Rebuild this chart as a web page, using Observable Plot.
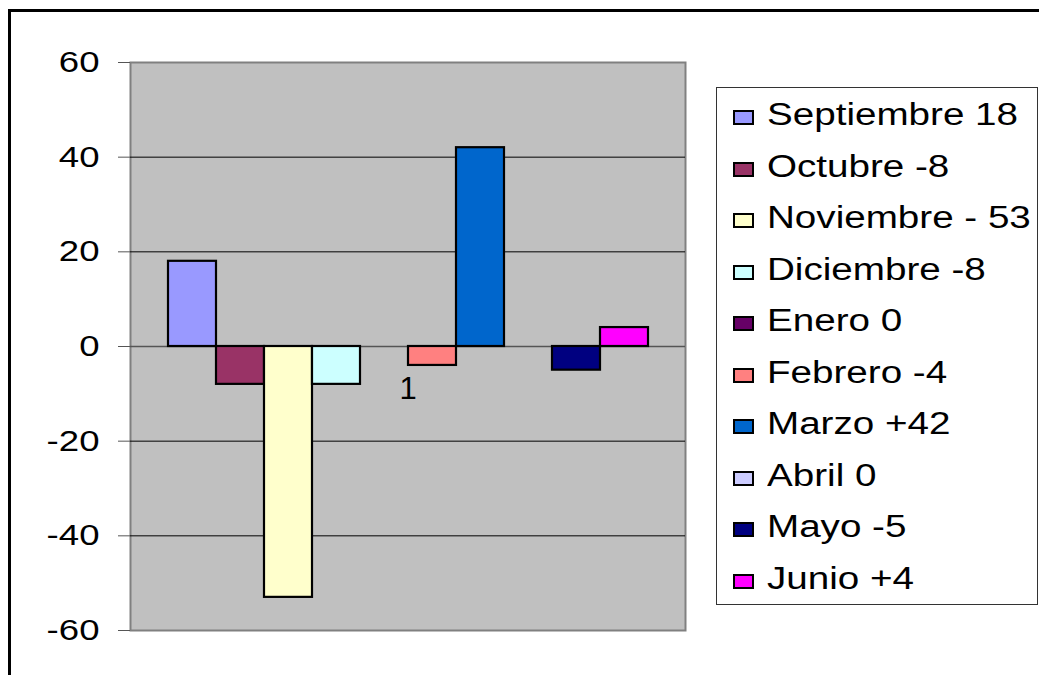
<!DOCTYPE html>
<html><head><meta charset="utf-8">
<script src="https://cdn.jsdelivr.net/npm/d3@7"></script>
<script src="https://cdn.jsdelivr.net/npm/@observablehq/plot@0.6"></script>
<style>
html,body{margin:0;padding:0;background:#fff;overflow:hidden;width:1039px;height:675px}
#wrap{position:relative;width:1039px;height:675px;overflow:hidden}
#border{position:absolute;left:8px;top:9px;width:1100px;height:700px;border-top:3px solid #000;border-left:3px solid #000}
#chart{position:absolute;left:0;top:0}
#legend{position:absolute;left:716px;top:87px;width:322px;height:518px;border:1px solid #333;box-sizing:border-box;background:#fff}
.item{position:absolute;left:16px;height:30px;display:flex;align-items:center}
.sw{width:17px;height:11px;border:2px solid #000;margin-top:5px;flex:none}
.lab{font-family:"Liberation Sans",Arial,sans-serif;font-size:31px;transform:scaleX(1.245);transform-origin:left center;margin-left:13px;white-space:nowrap;color:#000}
</style></head>
<body>
<div id="wrap"><div id="border"></div><div id="chart"></div><div id="legend"></div></div>
<script>
const months = ["Septiembre","Octubre","Noviembre","Diciembre","Enero","Febrero","Marzo","Abril","Mayo","Junio"];
const values = [18, -8, -53, -8, 0, -4, 42, 0, -5, 4];
const legendLabels = ["Septiembre 18","Octubre -8","Noviembre - 53","Diciembre -8","Enero 0","Febrero -4","Marzo +42","Abril 0","Mayo -5","Junio +4"];
const colors = ["#9999FF","#993366","#FFFFCC","#CCFFFF","#660066","#FF8080","#0066CC","#CCCCFF","#000080","#FF00FF"];
const categoryLabel = "1";
const yTicks = [-60,-40,-20,0,20,40,60];
const gridTicks = [-40,-20,20,40];

const data = months.map((m,i)=>({month:m, value:values[i]}));

const chart = Plot.plot({
  width:1039, height:675,
  marginLeft:130, marginRight:354, marginTop:62, marginBottom:45,
  style:{fontFamily:"'Liberation Sans', Arial, sans-serif", fontSize:"30px", background:"transparent", color:"#000", overflow:"visible"},
  x:{type:"band", domain:months, paddingInner:0, paddingOuter:0.75, axis:null},
  y:{domain:[-60,60]},
  color:{type:"ordinal", domain:months, range:colors},
  marks:[
    Plot.frame({fill:"#C0C0C0", stroke:"#808080", strokeWidth:2}),
    Plot.gridY(gridTicks, {stroke:"#000", strokeOpacity:1, strokeWidth:1}),
    Plot.ruleY([0], {stroke:"#555", strokeWidth:1.5}),
    Plot.ruleX([{v:0}], {y1:0, y2:-2, frameAnchor:"right", stroke:"#555", strokeWidth:1.5}),
    Plot.barY(data, {x:"month", y:"value", fill:"month", stroke:"#000", strokeWidth:2.2}),
    Plot.axisY(yTicks, {tickSize:12, tickPadding:19, stroke:"#555", fill:"#000", label:null, fontSize:30, tickFormat:d=>String(d)}),
    Plot.text([{label:categoryLabel, v:0}], {text:"label", y:"v", frameAnchor:"middle", dy:43, fontSize:31, fill:"#000", ariaLabel:"category label"})
  ]
});
// horizontally stretch texts to match reference typography
chart.querySelectorAll('g[aria-label="y-axis tick label"] text, g[aria-label="category label"] text').forEach(t=>{
  t.setAttribute("transform",(t.getAttribute("transform")||"")+" scale(1.22,1)");
});
document.getElementById("chart").appendChild(chart);

const legend = document.getElementById("legend");
legendLabels.forEach((lab,i)=>{
  const it = document.createElement("div");
  it.className="item";
  it.style.top = (12 + 51.5*i) + "px";
  const sw = document.createElement("div");
  sw.className="sw"; sw.style.background = colors[i];
  const tx = document.createElement("span");
  tx.className="lab"; tx.textContent = lab;
  it.appendChild(sw); it.appendChild(tx);
  legend.appendChild(it);
});
</script>
</body></html>
